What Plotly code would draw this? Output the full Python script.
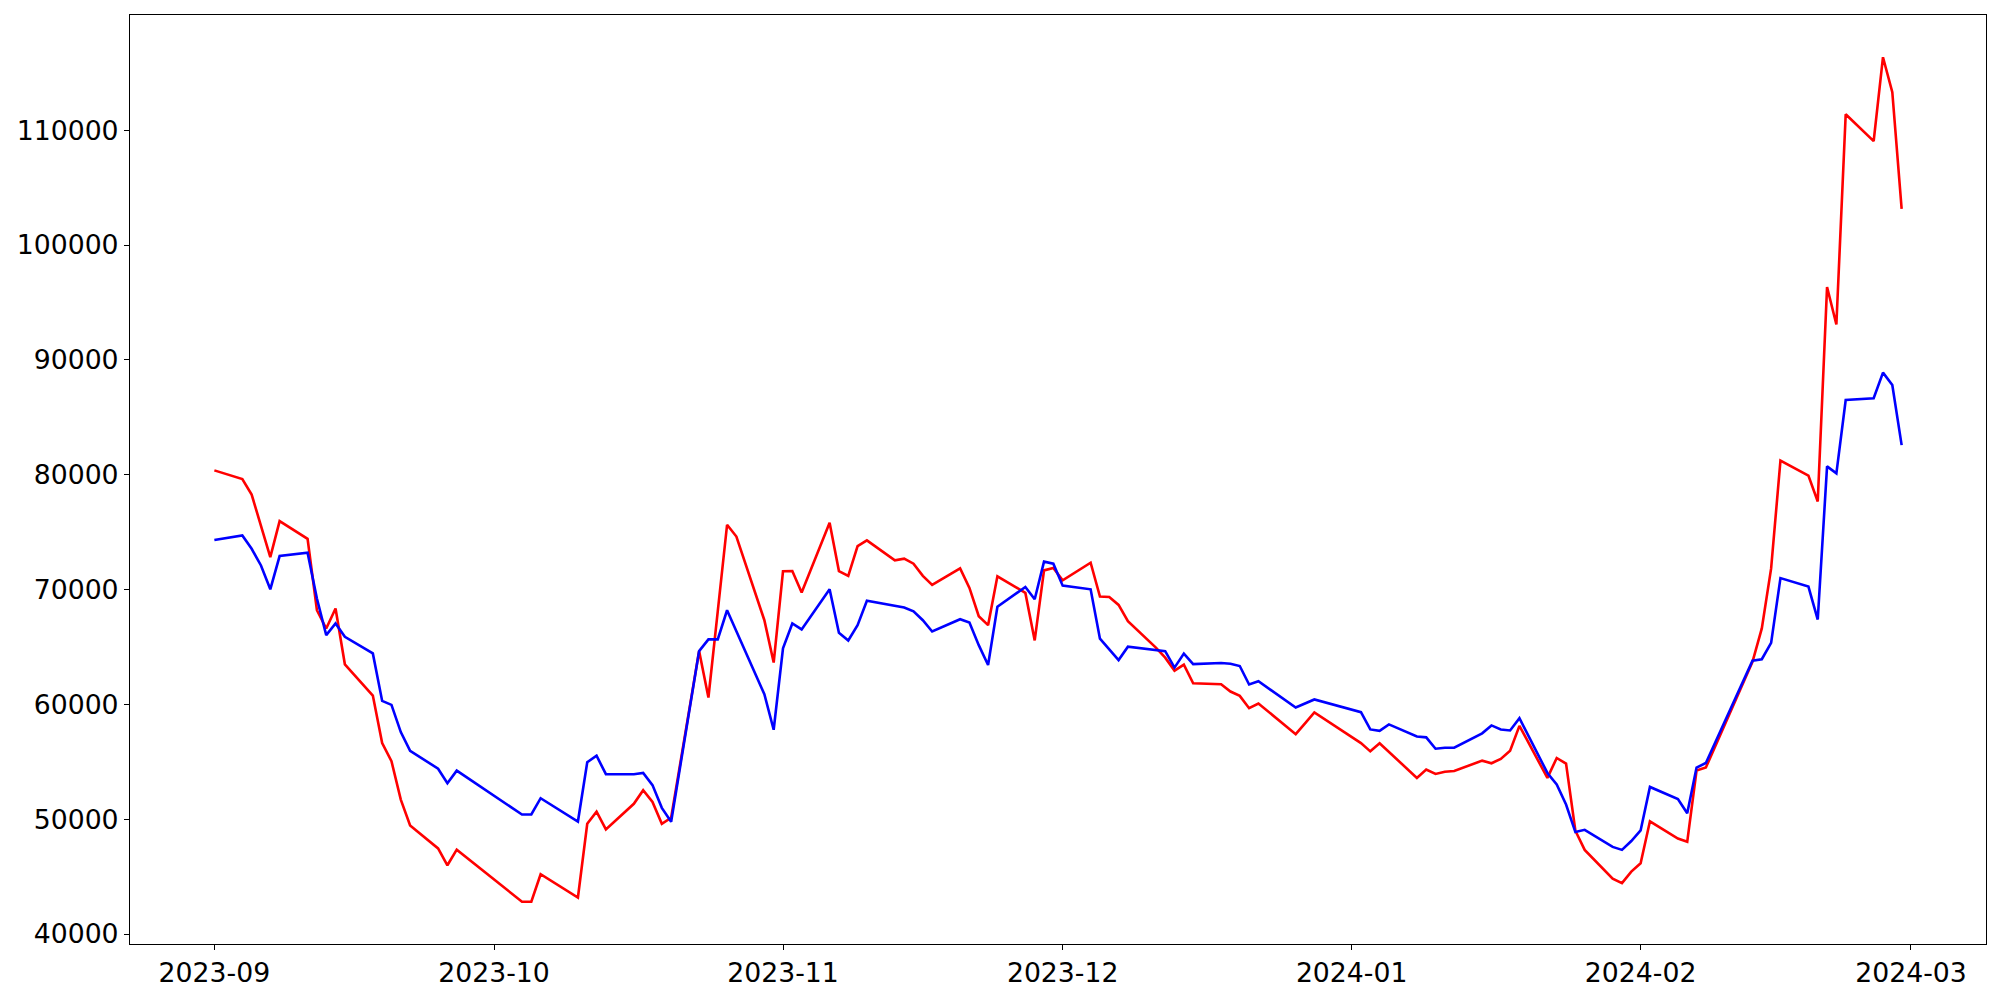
import plotly.graph_objects as go
import pandas as pd

dates = [
    "2023-09-01", "2023-09-04", "2023-09-05", "2023-09-06", "2023-09-07", "2023-09-08",
    "2023-09-11", "2023-09-12", "2023-09-13", "2023-09-14", "2023-09-15",
    "2023-09-18", "2023-09-19", "2023-09-20", "2023-09-21", "2023-09-22",
    "2023-09-25", "2023-09-26", "2023-09-27",
    "2023-10-04", "2023-10-05", "2023-10-06",
    "2023-10-10", "2023-10-11", "2023-10-12", "2023-10-13",
    "2023-10-16", "2023-10-17", "2023-10-18", "2023-10-19", "2023-10-20",
    "2023-10-23", "2023-10-24", "2023-10-25", "2023-10-26", "2023-10-27",
    "2023-10-30", "2023-10-31", "2023-11-01", "2023-11-02", "2023-11-03",
    "2023-11-06", "2023-11-07", "2023-11-08", "2023-11-09", "2023-11-10",
    "2023-11-13", "2023-11-14", "2023-11-15", "2023-11-16", "2023-11-17",
    "2023-11-20", "2023-11-21", "2023-11-22", "2023-11-23", "2023-11-24",
    "2023-11-27", "2023-11-28", "2023-11-29", "2023-11-30", "2023-12-01",
    "2023-12-04", "2023-12-05", "2023-12-06", "2023-12-07", "2023-12-08",
    "2023-12-11", "2023-12-12", "2023-12-13", "2023-12-14", "2023-12-15",
    "2023-12-18", "2023-12-19", "2023-12-20", "2023-12-21", "2023-12-22",
    "2023-12-26", "2023-12-27", "2023-12-28",
    "2024-01-02", "2024-01-03", "2024-01-04", "2024-01-05",
    "2024-01-08", "2024-01-09", "2024-01-10", "2024-01-11", "2024-01-12",
    "2024-01-15", "2024-01-16", "2024-01-17", "2024-01-18", "2024-01-19",
    "2024-01-22", "2024-01-23", "2024-01-24", "2024-01-25", "2024-01-26",
    "2024-01-29", "2024-01-30", "2024-01-31", "2024-02-01", "2024-02-02",
    "2024-02-05", "2024-02-06", "2024-02-07", "2024-02-08",
    "2024-02-13", "2024-02-14", "2024-02-15", "2024-02-16",
    "2024-02-19", "2024-02-20", "2024-02-21", "2024-02-22", "2024-02-23",
    "2024-02-26", "2024-02-27", "2024-02-28", "2024-02-29",
]

red_values = [
    80380, 79630, 78270, 75580, 72830, 75960,
    74420, 68200, 66610, 68350, 63490,
    60770, 56630, 55050, 51710, 49460,
    47460, 45990, 47350,
    42810, 42810, 45210,
    43180, 49600, 50650, 49110,
    51340, 52530, 51500, 49600, 50130,
    64640, 60600, 68100, 75640, 74620,
    67330, 63640, 71590, 71610, 69740,
    75810, 71610, 71190, 73790, 74280,
    72540, 72690, 72250, 71190, 70400,
    71850, 70140, 67680, 66900, 71150,
    69710, 65570, 71670, 71880, 70800,
    72340, 69390, 69360, 68660, 67250,
    64950, 64070, 62940, 63460, 61840,
    61750, 61120, 60740, 59670, 60080,
    57410, 58350, 59300,
    56630, 55910, 56610, 55850,
    53600, 54320, 53940, 54140, 54200,
    55100, 54870, 55250, 55960, 58130,
    53600, 55330, 54840, 49000, 47330,
    44830, 44440, 45440, 46170, 49820,
    48320, 48030, 54240, 54500,
    63700, 66620, 71840, 81230,
    79920, 77670, 96350, 93080, 111390,
    109050, 116360, 113320, 103150,
]

blue_values = [
    74310, 74710, 73550, 72100, 70020, 72920,
    73210, 69220, 66030, 67050, 65890,
    64440, 60300, 59960, 57590, 55960,
    54400, 53140, 54230,
    50410, 50410, 51830,
    49800, 54960, 55530, 53920,
    53920, 54030, 52970, 50990, 49780,
    64640, 65660, 65660, 68200, 66410,
    60890, 57790, 64880, 67050, 66530,
    70020, 66240, 65570, 66900, 69020,
    68630, 68440, 68110, 67330, 66350,
    67420, 67130, 65160, 63430, 68500,
    70230, 69160, 72430, 72250, 70340,
    70020, 65720, 64820, 63860, 65020,
    64730, 64640, 63200, 64420, 63510,
    63600, 63540, 63340, 61730, 62010,
    59730, 60080, 60430,
    59320, 57820, 57700, 58260,
    57210, 57130, 56140, 56230, 56230,
    57480, 58170, 57820, 57730, 58800,
    54030, 53020, 51280, 48880, 49080,
    47590, 47330, 48100, 49020, 52810,
    51750, 50520, 54500, 54900,
    63800, 63930, 65360, 71000,
    70260, 67390, 80730, 80120, 86510,
    86660, 88890, 87810, 82580,
]

y_ticks = [40000, 50000, 60000, 70000, 80000, 90000, 100000, 110000]
x_tick_labels = ["2023-09", "2023-10", "2023-11", "2023-12", "2024-01", "2024-02", "2024-03"]

x = pd.to_datetime(dates)

fig = go.Figure()
fig.add_trace(go.Scatter(x=x, y=red_values, mode="lines",
                         line=dict(color="#ff0000", width=2.6), showlegend=False))
fig.add_trace(go.Scatter(x=x, y=blue_values, mode="lines",
                         line=dict(color="#0000ff", width=2.6), showlegend=False))

# matplotlib-style 5% margins
xmin, xmax = x.min(), x.max()
xspan = xmax - xmin
ymin = min(min(red_values), min(blue_values))
ymax = max(max(red_values), max(blue_values))
yspan = ymax - ymin

tick_vals_x = pd.to_datetime([s + "-01" for s in x_tick_labels])

axis_common = dict(
    showline=True, linecolor="black", linewidth=1.1, mirror=True,
    ticks="outside", ticklen=5, tickwidth=1.1, tickcolor="black",
    showgrid=False, zeroline=False,
    tickfont=dict(family="DejaVu Sans", size=26.7, color="black"),
)

fig.update_xaxes(
    range=[xmin - 0.05 * xspan, xmax + 0.05 * xspan],
    tickvals=tick_vals_x, ticktext=x_tick_labels,
    **axis_common,
)
fig.update_yaxes(
    range=[ymin - 0.05 * yspan, ymax + 0.05 * yspan],
    tickvals=y_ticks, ticktext=[str(v) for v in y_ticks],
    **axis_common,
)

fig.update_layout(
    width=2000, height=1000, autosize=False,
    margin=dict(l=130, r=14, t=15, b=53, pad=0),
    paper_bgcolor="white", plot_bgcolor="white",
    font=dict(family="DejaVu Sans", color="black"),
)

fig.write_html("out.html", config={"displayModeBar": False},
               post_script="document.body.style.margin='0';")
